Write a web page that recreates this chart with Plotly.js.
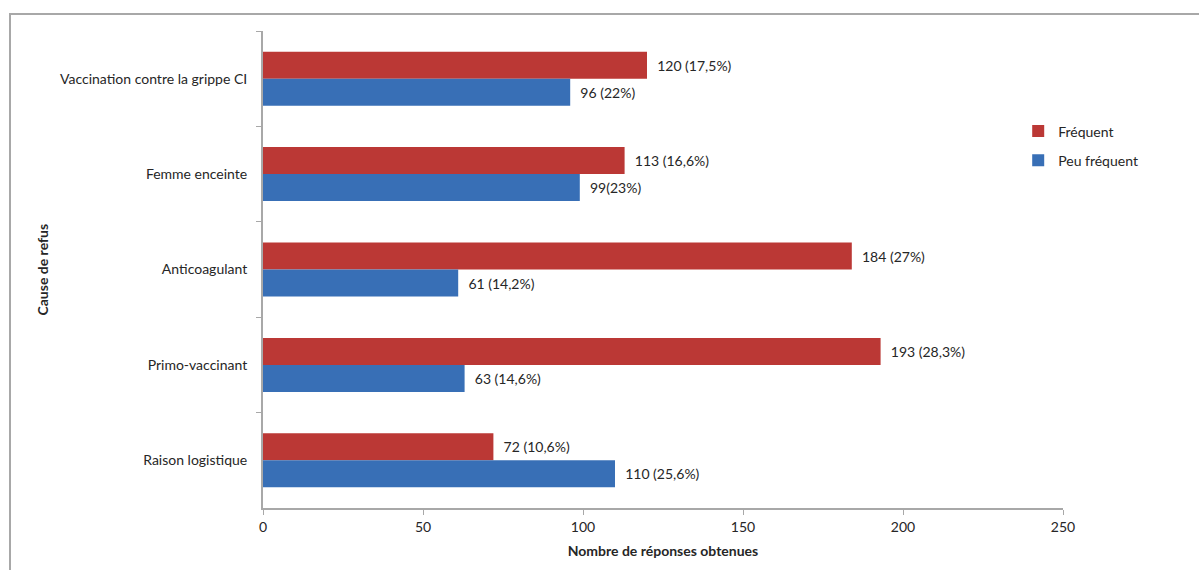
<!DOCTYPE html>
<html>
<head>
<meta charset="utf-8">
<script src="https://cdn.plot.ly/plotly-3.0.1.min.js"></script>
<style>
  html, body { margin: 0; padding: 0; background: #ffffff; }
  #frame { position: absolute; left: 9px; top: 13px; width: 1400px; height: 800px;
           border-left: 2px solid #a8a8a8; border-top: 2px solid #a8a8a8; z-index: 0; }
  #chart { position: absolute; left: 0; top: 0; width: 1199px; height: 570px; z-index: 1; }
</style>
</head>
<body>
<div id="frame"></div>
<div id="chart"></div>
<script>
const categories = [
  "Vaccination contre la grippe CI",
  "Femme enceinte",
  "Anticoagulant",
  "Primo-vaccinant",
  "Raison logistique"
];
const frequentValues = [120, 113, 184, 193, 72];
const frequentLabels = ["120 (17,5%)", "113 (16,6%)", "184 (27%)", "193 (28,3%)", "72 (10,6%)"];
const peuFrequentValues = [96, 99, 61, 63, 110];
const peuFrequentLabels = ["96 (22%)", "99(23%)", "61 (14,2%)", "63 (14,6%)", "110 (25,6%)"];
const xTicks = [0, 50, 100, 150, 200, 250];

const pad = "\u00a0\u00a0";
const labelFont = { family: "Lato, 'Open Sans', sans-serif", size: 14, color: "#262626" };

const traces = [
  {
    type: "bar", orientation: "h", name: "Fréquent",
    y: categories, x: frequentValues,
    text: frequentLabels.map(t => pad + t), textposition: "outside",
    textfont: labelFont, cliponaxis: false,
    marker: { color: "#bb3835", line: { width: 0 } },
    legendgroup: "a"
  },
  {
    type: "bar", orientation: "h", name: "Peu fréquent",
    y: categories, x: peuFrequentValues,
    text: peuFrequentLabels.map(t => pad + t), textposition: "outside",
    textfont: labelFont, cliponaxis: false,
    marker: { color: "#386fb6", line: { width: 0 } },
    legendgroup: "b"
  }
];

const layout = {
  width: 1199, height: 570,
  paper_bgcolor: "rgba(0,0,0,0)", plot_bgcolor: "rgba(0,0,0,0)",
  margin: { l: 263, r: 136, t: 31, b: 62 },
  barmode: "group", bargap: 0.434, bargroupgap: 0,
  font: labelFont,
  showlegend: true,
  legend: {
    x: 0.944, xanchor: "left", y: 0.759, yanchor: "middle",
    font: labelFont, traceorder: "grouped", tracegroupgap: 8,
    itemwidth: 30, bgcolor: "rgba(0,0,0,0)"
  },
  xaxis: {
    range: [0, 250], tickvals: xTicks, ticktext: xTicks.map(String),
    showgrid: false, zeroline: false,
    showline: true, linecolor: "#a8a8a8", linewidth: 2,
    ticks: "outside", ticklen: 5, tickcolor: "#a8a8a8", tickwidth: 1,
    tickfont: labelFont,
    title: { text: "<b>Nombre de réponses obtenues</b>", font: labelFont, standoff: 12 }
  },
  yaxis: {
    type: "category", autorange: "reversed",
    showgrid: false, zeroline: false,
    showline: true, linecolor: "#a8a8a8", linewidth: 2,
    ticks: "outside", ticklen: 5, tickcolor: "#a8a8a8", tickwidth: 1,
    tickson: "boundaries", ticklabelstandoff: 11,
    tickfont: labelFont
  },
  annotations: [{
    text: "<b>Cause de refus</b>", xref: "paper", yref: "paper",
    x: (42 - 263) / 800, y: 0.5, xanchor: "center", yanchor: "middle",
    textangle: -90, showarrow: false, font: labelFont
  }]
};

Plotly.newPlot("chart", traces, layout, { displayModeBar: false, staticPlot: true });
</script>
</body>
</html>
